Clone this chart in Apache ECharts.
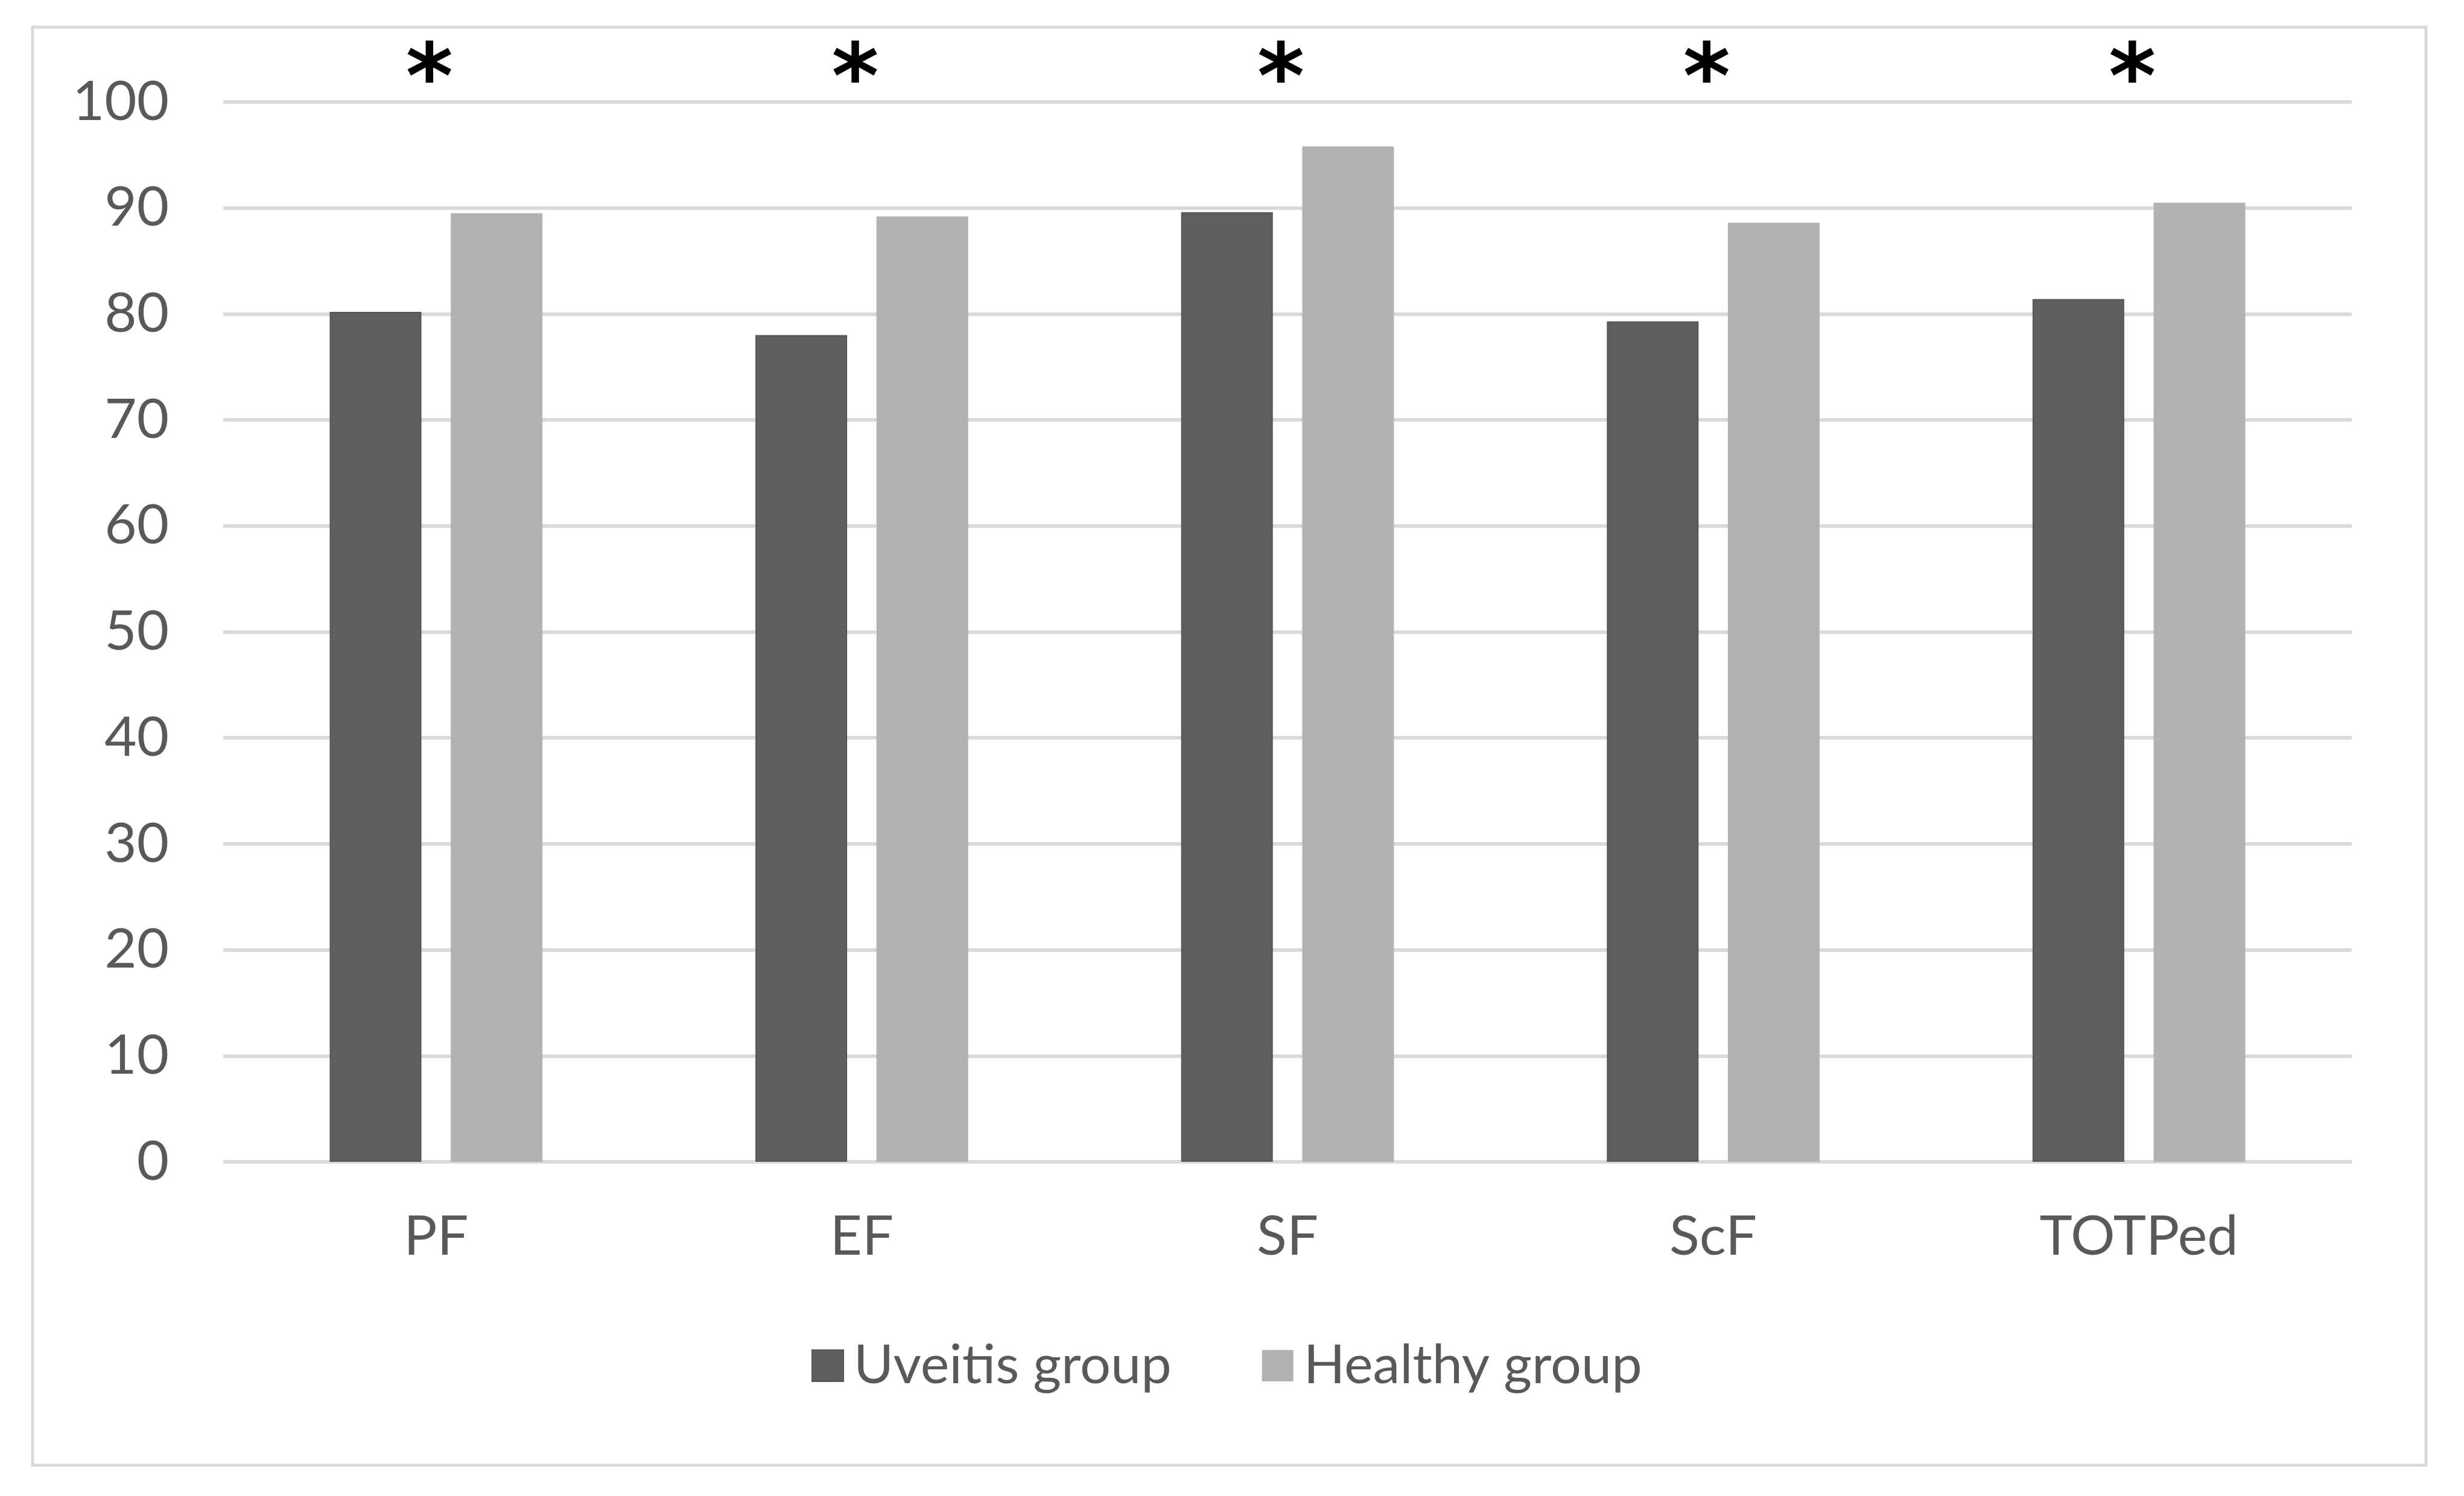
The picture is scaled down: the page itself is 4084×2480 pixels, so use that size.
<!DOCTYPE html>
<html>
<head>
<meta charset="utf-8">
<script src="https://cdn.jsdelivr.net/npm/echarts@6/dist/echarts.min.js"></script>
<style>
html,body{margin:0;padding:0;background:#fff;}
#chart{width:4084px;height:2480px;}
</style>
</head>
<body>
<div id="chart"></div>
<script>
const categories = ['PF', 'EF', 'SF', 'ScF', 'TOTPed'];
const uveitisGroup = [80.2, 78.0, 89.6, 79.3, 81.4];
const healthyGroup = [89.5, 89.2, 95.8, 88.6, 90.5];
const significance = ['*', '*', '*', '*', '*'];
const yTicks = { min: 0, max: 100, interval: 10 };

const textColor = '#595959';
const font = 'Lato';

const chart = echarts.init(document.getElementById('chart'), null, { renderer: 'canvas' });
chart.setOption({
  backgroundColor: '#ffffff',
  animation: false,
  graphic: [{
    type: 'rect',
    shape: { x: 54, y: 45, width: 3967, height: 2384 },
    style: { fill: 'none', stroke: '#d9d9d9', lineWidth: 5 },
    silent: true,
    z: -1
  }],
  grid: { left: 370, right: 186, top: 169, height: 1757, containLabel: false },
  legend: {
    data: ['Uveitis group', 'Healthy group'],
    left: 1340,
    top: 2214,
    icon: 'rect',
    itemWidth: 52,
    itemHeight: 52,
    itemGap: 150,
    textStyle: { color: textColor, fontSize: 90, fontFamily: font, padding: [0, 0, 0, 12] }
  },
  xAxis: [{
    type: 'category',
    data: categories,
    position: 'bottom',
    axisLine: { show: false },
    axisTick: { show: false },
    axisLabel: { color: textColor, fontSize: 92, fontFamily: font, margin: 78 }
  }, {
    type: 'category',
    data: significance,
    position: 'top',
    axisLine: { show: false },
    axisTick: { show: false },
    axisLabel: { color: '#000000', fontSize: 150, fontWeight: 'bold', fontFamily: 'DejaVu Sans', margin: -46, padding: [0, 22, 0, 0] }
  }],
  yAxis: {
    type: 'value',
    min: yTicks.min,
    max: yTicks.max,
    interval: yTicks.interval,
    axisLine: { show: false },
    axisTick: { show: false },
    splitLine: { lineStyle: { color: '#d9d9d9', width: 6 } },
    axisLabel: { color: textColor, fontSize: 92, fontFamily: font, margin: 90 }
  },
  series: [{
    name: 'Uveitis group',
    type: 'bar',
    data: uveitisGroup,
    barWidth: 152,
    barGap: '32%',
    itemStyle: { color: '#5f5f5f', borderColor: '#555555', borderWidth: 2 }
  }, {
    name: 'Healthy group',
    type: 'bar',
    data: healthyGroup,
    barWidth: 152,
    itemStyle: { color: '#b2b2b2' }
  }]
});
</script>
</body>
</html>
